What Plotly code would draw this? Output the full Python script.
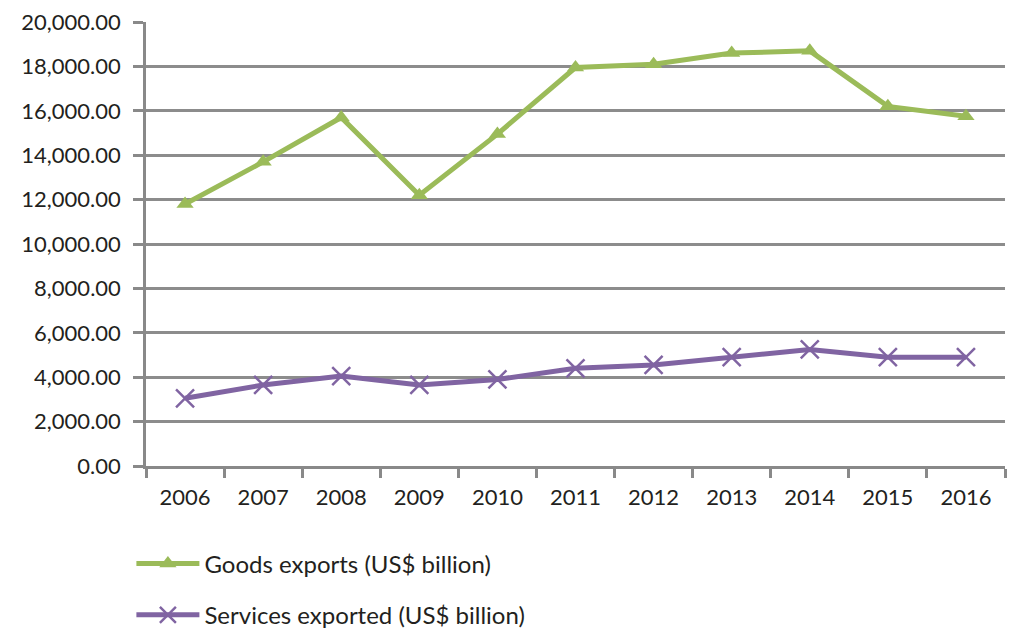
import plotly.graph_objects as go

years = ["2006", "2007", "2008", "2009", "2010", "2011", "2012", "2013", "2014", "2015", "2016"]
goods = [11800, 13700, 15700, 12200, 14950, 17950, 18100, 18600, 18700, 16200, 15750]
services = [3050, 3650, 4050, 3650, 3900, 4400, 4550, 4900, 5250, 4900, 4900]
y_ticks = list(range(0, 20001, 2000))
y_labels = [f"{v:,.2f}" for v in y_ticks]

green = "#9BBB59"
purple = "#8064A2"
font = "Lato, 'Open Sans', sans-serif"

fig = go.Figure()
fig.add_trace(go.Scatter(
    x=years, y=goods, name="Goods exports (US$ billion)", mode="lines+markers",
    line=dict(color=green, width=5),
    marker=dict(symbol="triangle-up", size=15, color=green),
    legendgroup="g1",
))
fig.add_trace(go.Scatter(
    x=years, y=services, name="Services exported (US$ billion)", mode="lines+markers",
    line=dict(color=purple, width=5),
    marker=dict(symbol="x-thin", size=18, color=purple, line=dict(color=purple, width=2.5)),
    legendgroup="g2",
))

fig.update_layout(
    width=1012, height=630,
    margin=dict(l=146, r=7, t=22, b=164, autoexpand=False),
    plot_bgcolor="white", paper_bgcolor="white",
    font=dict(family=font, size=22, color="#231F20"),
    showlegend=True,
    legend=dict(orientation="v", x=-0.017, xanchor="left", y=-0.17, yanchor="top",
                font=dict(size=24), tracegroupgap=17, itemwidth=63),
    xaxis=dict(
        type="category", range=[-0.5, 10.5], tickson="boundaries",
        ticks="outside", ticklen=9, tickwidth=2.5, tickcolor="#898989",
        showline=True, linecolor="#898989", linewidth=2.5,
        showgrid=False, tickfont=dict(size=22), ticklabelstandoff=10,
        automargin=False,
    ),
    yaxis=dict(
        range=[0, 20000], tickvals=y_ticks, ticktext=y_labels,
        ticks="outside", ticklen=10, tickwidth=2.5, tickcolor="#898989",
        showline=True, linecolor="#898989", linewidth=2.5,
        showgrid=True, gridcolor="#8C8C8C", gridwidth=2.5,
        zeroline=False, tickfont=dict(size=22), ticklabelstandoff=8,
        automargin=False,
    ),
)

fig.write_html("out.html")
